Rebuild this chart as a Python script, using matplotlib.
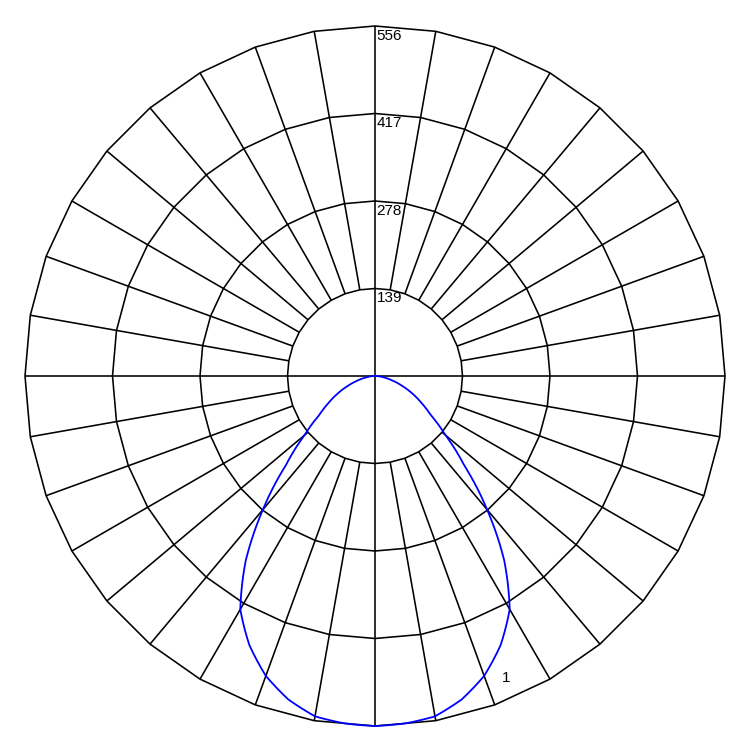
import numpy as np
import matplotlib
matplotlib.use("Agg")
import matplotlib.pyplot as plt

# Data: luminous intensity vs. angle from nadir (degrees), symmetric plane
gamma_deg = [0, 5, 10, 15, 20, 25, 30, 35, 40, 45, 50, 55, 60, 65, 70, 75, 80, 85, 90]
intensity = [556, 554, 549, 532, 507, 472, 428, 358, 277, 200, 146, 108, 85, 65, 46, 30, 17, 7, 0]
ring_values = [139, 278, 417, 556]
ring_labels = ["139", "278", "417", "556"]
curve_label = "1"

plt.rcParams['font.family'] = ['Liberation Sans', 'DejaVu Sans']

fig = plt.figure(figsize=(7.5, 7.5), dpi=100)
ax = fig.add_axes([0, 0, 1, 1])
ax.set_axis_off()

rmax = ring_values[-1]
px_per_unit = 350.0 / rmax
ax.set_xlim(-375 / px_per_unit, 375 / px_per_unit)
ax.set_ylim(-374 / px_per_unit, 376 / px_per_unit)
ax.set_aspect('equal')

def to_xy(ang_deg, r):
    a = np.radians(np.asarray(ang_deg, dtype=float))
    r = np.asarray(r, dtype=float)
    # angle measured from nadir (down), positive toward the right
    return r * np.sin(a), -r * np.cos(a)

grid_kw = dict(color='black', lw=1.15, solid_capstyle='butt', zorder=1)

# polygonal rings
spoke_angles = np.arange(0, 370, 10)
for rv in ring_values:
    x, y = to_xy(spoke_angles, np.full(len(spoke_angles), rv))
    ax.plot(x, y, **grid_kw)

# spokes
for a in range(0, 360, 10):
    if a % 90 == 0:
        continue
    x, y = to_xy([a, a], [ring_values[0], rmax])
    ax.plot(x, y, **grid_kw)
# main axes through centre
for a in (0, 90):
    x, y = to_xy([a, a + 180], [rmax, rmax])
    ax.plot(x, y, **grid_kw)

# ring labels
for rv, lab in zip(ring_values, ring_labels):
    ax.text(2.5, rv - 4, lab, ha='left', va='top', fontsize=11, color='black', zorder=3)

# curve (mirrored for symmetric plane)
g = np.array(gamma_deg, dtype=float)
I = np.array(intensity, dtype=float)
ang = np.concatenate([-g[::-1], g[1:]])
rr = np.concatenate([I[::-1], I[1:]])
fine = np.linspace(ang.min(), ang.max(), 721)
rfine = np.interp(fine, ang, rr)
x, y = to_xy(fine, rfine)
ax.plot(x, y, color='#0000ff', lw=1.3, zorder=2)

ax.text(208, -480, curve_label, ha='center', va='center', fontsize=11, color='black', zorder=3)

fig.savefig('out.png', dpi=100)
